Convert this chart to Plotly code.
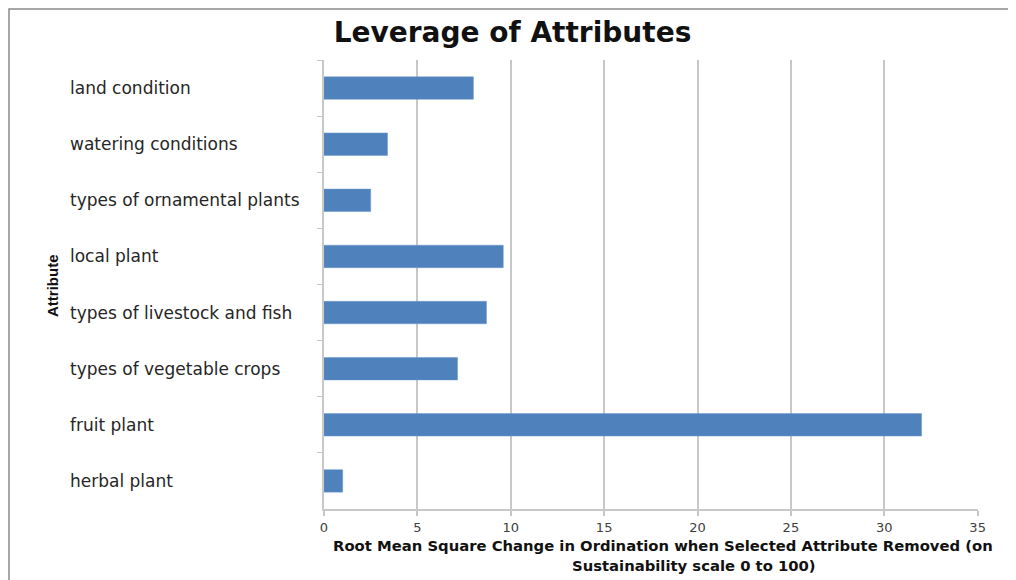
import plotly.graph_objects as go

categories = ["land condition", "watering conditions", "types of ornamental plants",
              "local plant", "types of livestock and fish", "types of vegetable crops",
              "fruit plant", "herbal plant"]
values = [8.0, 3.4, 2.5, 9.6, 8.7, 7.15, 32.0, 1.0]
x_ticks = [0, 5, 10, 15, 20, 25, 30, 35]

title_text = "Leverage of Attributes"
x_title_line1 = "Root Mean Square Change in Ordination when Selected Attribute Removed (on"
x_title_line2 = "Sustainability scale 0 to 100)"
y_title = "Attribute"

OFF = 8  # page body margin
W, H = 1016 - OFF, 580 - OFF
L, R, T, B = 324 - OFF, 978 - OFF, 60 - OFF, 509 - OFF

def px(x):
    return (x - OFF - L) / (R - L)

def py(y):
    return 1 - (y - OFF - T) / (B - T)

fig = go.Figure(go.Bar(
    x=values, y=categories, orientation="h",
    marker=dict(color="#4F81BD", line=dict(color="#6f96c8", width=0.5)),
    width=0.4,
))

grid_col = "#c8c8c8"
fig.update_layout(
    width=W, height=H,
    margin=dict(l=L, r=W - R, t=T, b=H - B),
    paper_bgcolor="white", plot_bgcolor="white",
    showlegend=False,
    title=dict(text="<b>" + title_text + "</b>", xref="container", yref="container",
               x=(512.5 - OFF) / W, y=1 - (32 - OFF) / H, xanchor="center", yanchor="middle",
               font=dict(family="DejaVu Sans", size=28, color="#111111")),
    xaxis=dict(range=[0, 35.02], tickvals=x_ticks, showgrid=True, gridcolor=grid_col,
               gridwidth=2, zeroline=False, showline=True, linecolor=grid_col, linewidth=2,
               ticks="outside", ticklen=5, tickcolor=grid_col, tickwidth=1.5,
               tickfont=dict(family="DejaVu Sans", size=13, color="#404040")),
    yaxis=dict(categoryorder="array", categoryarray=categories, autorange="reversed",
               showticklabels=False, showgrid=False, zeroline=False, showline=True,
               linecolor=grid_col, linewidth=2, ticks="outside", ticklen=5,
               tickcolor=grid_col, tickson="boundaries"),
)

annotations = []
for c in categories:
    annotations.append(dict(text=c, xref="paper", yref="y", x=px(68), y=c,
                            xanchor="left", yanchor="middle", showarrow=False,
                            font=dict(family="DejaVu Sans", size=17, color="#262626")))
annotations.append(dict(text="<b>" + y_title + "</b>", xref="paper", yref="paper",
                        x=px(52), y=py(286), textangle=-90, showarrow=False,
                        xanchor="center", yanchor="middle",
                        font=dict(family="Liberation Sans Narrow, Liberation Sans", size=15,
                                  color="#111111")))
annotations.append(dict(text="<b>" + x_title_line1 + "</b>", xref="paper", yref="paper",
                        x=px(331), y=py(545), xanchor="left", yanchor="middle",
                        showarrow=False,
                        font=dict(family="DejaVu Sans", size=14.8, color="#111111")))
annotations.append(dict(text="<b>" + x_title_line2 + "</b>", xref="paper", yref="paper",
                        x=px(694), y=py(565), xanchor="center", yanchor="middle",
                        showarrow=False,
                        font=dict(family="DejaVu Sans", size=14.8, color="#111111")))
fig.update_layout(annotations=annotations)

fig.add_shape(type="rect", xref="paper", yref="paper",
              x0=px(9), x1=px(1012), y0=py(600), y1=py(9),
              line=dict(color="#8a8a8a", width=1.5), layer="below")

fig.write_html("out.html")
